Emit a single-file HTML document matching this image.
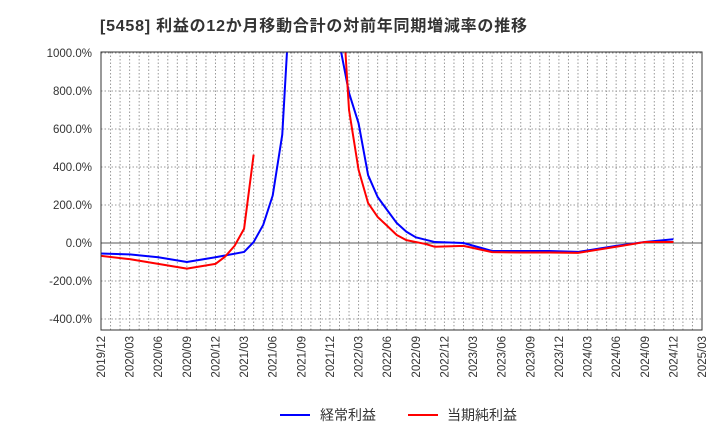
<!DOCTYPE html>
<html><head><meta charset="utf-8"><style>
body{margin:0;background:#fff;font-family:"Liberation Sans","Noto Sans CJK JP",sans-serif;}
svg text{font-family:"Liberation Sans","Noto Sans CJK JP",sans-serif;}
</style></head><body>
<svg id="c" width="720" height="440" xmlns="http://www.w3.org/2000/svg">
<text x="100" y="31" font-size="16" font-weight="bold" fill="#333" textLength="427" lengthAdjust="spacing">[5458]  利益の12か月移動合計の対前年同期増減率の推移</text>
<defs><clipPath id="pc"><rect x="101" y="52" width="601" height="278"/></clipPath></defs>
<g id="grid"></g>
<g id="lines" clip-path="url(#pc)"></g>
<rect x="101" y="52" width="601" height="278" fill="none" stroke="#333" stroke-width="1"/>
<g id="axes"></g>
<g>
<line x1="280" y1="415" x2="310" y2="415" stroke="#0000ff" stroke-width="2"/>
<text x="320" y="420" font-size="14" fill="#333">経常利益</text>
<line x1="408" y1="415" x2="438" y2="415" stroke="#ff0000" stroke-width="2"/>
<text x="447" y="420" font-size="14" fill="#333">当期純利益</text>
</g>
</svg>
<script>
const xTickLabels=["2019/12","2020/03","2020/06","2020/09","2020/12","2021/03","2021/06","2021/09","2021/12","2022/03","2022/06","2022/09","2022/12","2023/03","2023/06","2023/09","2023/12","2024/03","2024/06","2024/09","2024/12","2025/03"];
const yTicks=[1000,800,600,400,200,0,-200,-400];
const blueMonths=[0,3,6,9,12,15,16,17,18,19,20,21,22,23,24,25,26,27,28,29,30,31,32,33,35,38,41,44,47,50,54,57,60];
const blueValues=[-55,-60,-75,-100,-75,-47,5,95,250,570,1450,2500,3000,3000,2500,1050,790,630,357,242,173,105,60,30,5,0,-42,-42,-42,-47,-15,5,20];
const redMonths=[0,3,6,9,12,13,14,15,16];
const redValues=[-68,-85,-110,-135,-110,-72,-15,75,465];
const redMonths2=[25,26,27,28,29,30,31,32,34,35,38,41,44,47,50,54,57,60];
const redValues2=[1510,700,385,210,137,90,42,15,-5,-20,-15,-48,-50,-50,-52,-20,5,5];
const NS="http://www.w3.org/2000/svg";
const X0=101,X1=702,Y0=330;
const xs=m=>X0+m*(X1-X0)/63;
const ys=v=>243-v*0.19;
const grid=document.getElementById('grid'),axes=document.getElementById('axes'),lines=document.getElementById('lines');
function mk(tag,attrs,parent){const e=document.createElementNS(NS,tag);for(const k in attrs)e.setAttribute(k,attrs[k]);parent.appendChild(e);return e;}
for(let m=1;m<63;m++){
 const l=mk('line',{x1:xs(m),x2:xs(m),y1:52,y2:330,stroke:'#999','stroke-dasharray':'1.5,2','stroke-width':1},grid);
 
 
}
for(let v=-400;v<=1000;v+=200){
 const l=mk('line',{x1:101,x2:702,y1:ys(v),y2:ys(v),stroke:v===0?'#555':'#999','stroke-dasharray':v===0?'':'1.5,2','stroke-width':1},grid);
 
 
}
yTicks.forEach(v=>{
 const t=mk('text',{x:92,y:ys(v)+4,'font-size':11.5,fill:'#333','text-anchor':'end'},axes);
 t.textContent=v.toFixed(1)+'%';
 
 
});
xTickLabels.forEach((s,i)=>{
 const x=xs(i*3);
 const t=mk('text',{x:0,y:0,'font-size':11.5,fill:'#333','text-anchor':'end',transform:`translate(${x+4},336) rotate(-90)`},axes);
 t.textContent=s;
 
 
});
function series(ms,vs,color,name){
 const p=mk('polyline',{points:ms.map((m,i)=>xs(m)+','+ys(vs[i])).join(' '),fill:'none',stroke:color,'stroke-width':2,'stroke-linejoin':'round'},lines);
 
 
}
series(blueMonths,blueValues,'#0000ff','ordinary-profit-line');
series(redMonths,redValues,'#ff0000','net-income-line-1');
series(redMonths2,redValues2,'#ff0000','net-income-line-2');
</script>
</body></html>
